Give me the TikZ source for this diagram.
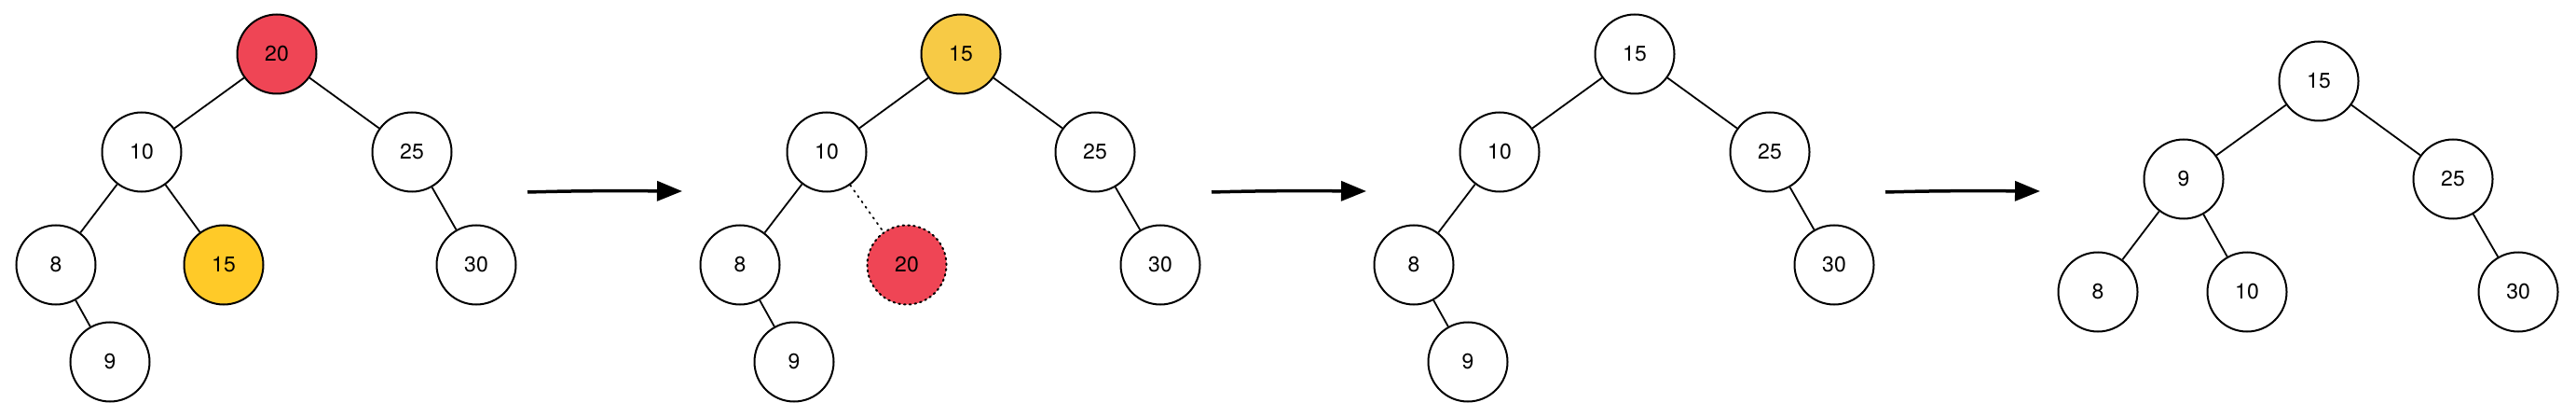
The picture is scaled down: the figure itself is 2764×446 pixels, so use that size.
\documentclass[tikz,border=0pt]{standalone}
\usepackage{fontspec}
\setmainfont{TeX Gyre Heros}
\usetikzlibrary{arrows.meta}
\definecolor{nodered}{HTML}{EF4555}
\definecolor{yellowA}{HTML}{FFCA28}
\definecolor{yellowB}{HTML}{F7CA45}
\tikzset{
  tnode/.style={circle, draw=black, line width=2pt, fill=white, minimum size=85pt, inner sep=0pt, font=\fontsize{23}{26}\selectfont},
  redn/.style={tnode, fill=nodered},
  yelA/.style={tnode, fill=yellowA},
  yelB/.style={tnode, fill=yellowB},
  ghost/.style={tnode, fill=nodered, dash pattern=on 1.6pt off 4.2pt, line cap=round},
  edge/.style={line width=1.8pt},
  dotedge/.style={line width=1.8pt, dash pattern=on 1.6pt off 5.5pt, line cap=round},
  flow/.style={line width=3.5pt, -{Triangle[length=27pt,width=21pt]}}
}
\begin{document}
\begin{tikzpicture}[x=1pt,y=-1pt]
\useasboundingbox (0,0) rectangle (2764,446);
% Tree 1
\node[redn] (a20) at (297,58) {20};
\node[tnode] (a10) at (152,163) {10};
\node[tnode] (a25) at (442,163) {25};
\node[tnode] (a8) at (60,284) {8};
\node[yelA] (a15) at (240,284) {15};
\node[tnode] (a30) at (511,284) {30};
\node[tnode] (a9) at (118,388) {9};
\draw[edge] (a20) -- (a10);
\draw[edge] (a20) -- (a25);
\draw[edge] (a10) -- (a8);
\draw[edge] (a10) -- (a15);
\draw[edge] (a25) -- (a30);
\draw[edge] (a8) -- (a9);
% Arrow 1
\coordinate (s1) at (566,206);
\coordinate (e1) at (732,205);
\draw[flow] (s1) .. controls (620,204.5) and (660,204.5) .. (e1);
% Tree 2
\node[yelB] (b15) at (1031,58) {15};
\node[tnode] (b10) at (887,163) {10};
\node[tnode] (b25) at (1175,163) {25};
\node[tnode] (b8) at (794,284) {8};
\node[ghost] (b20) at (973,284) {20};
\node[tnode] (b30) at (1245,284) {30};
\node[tnode] (b9) at (852,388) {9};
\draw[edge] (b15) -- (b10);
\draw[edge] (b15) -- (b25);
\draw[edge] (b10) -- (b8);
\draw[dotedge] (b10) -- (b20);
\draw[edge] (b25) -- (b30);
\draw[edge] (b8) -- (b9);
% Arrow 2
\coordinate (s2) at (1300,206);
\coordinate (e2) at (1466,205);
\draw[flow] (s2) .. controls (1354,204.5) and (1394,204.5) .. (e2);
% Tree 3
\node[tnode] (c15) at (1754,58) {15};
\node[tnode] (c10) at (1609,163) {10};
\node[tnode] (c25) at (1899,163) {25};
\node[tnode] (c8) at (1517,284) {8};
\node[tnode] (c30) at (1968,284) {30};
\node[tnode] (c9) at (1575,388) {9};
\draw[edge] (c15) -- (c10);
\draw[edge] (c15) -- (c25);
\draw[edge] (c10) -- (c8);
\draw[edge] (c25) -- (c30);
\draw[edge] (c8) -- (c9);
% Arrow 3
\coordinate (s3) at (2023,206);
\coordinate (e3) at (2189,205);
\draw[flow] (s3) .. controls (2077,204.5) and (2117,204.5) .. (e3);
% Tree 4
\node[tnode] (d15) at (2488,87) {15};
\node[tnode] (d9) at (2343,192) {9};
\node[tnode] (d25) at (2632,192) {25};
\node[tnode] (d8) at (2251,313) {8};
\node[tnode] (d10) at (2411,313) {10};
\node[tnode] (d30) at (2702,313) {30};
\draw[edge] (d15) -- (d9);
\draw[edge] (d15) -- (d25);
\draw[edge] (d9) -- (d8);
\draw[edge] (d9) -- (d10);
\draw[edge] (d25) -- (d30);
\end{tikzpicture}
\end{document}
